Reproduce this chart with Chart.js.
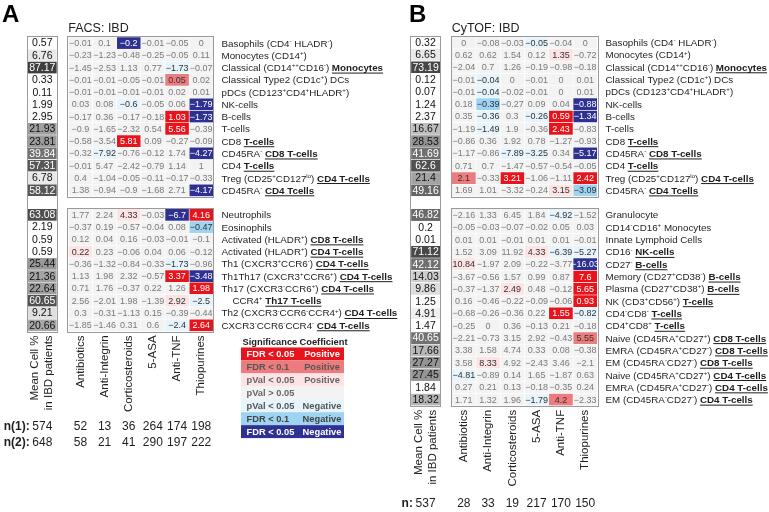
<!DOCTYPE html>
<html>
<head>
<meta charset="utf-8">
<script src="https://cdn.jsdelivr.net/npm/chart.js@4.4.1/dist/chart.umd.min.js"></script>
<style>
  html, body { margin: 0; padding: 0; background: #fff; }
  #wrap { position: relative; width: 769px; height: 512px; overflow: hidden; }
  #wrap canvas { position: absolute; left: 0; top: 0; }
</style>
</head>
<body>
<div id="wrap">
  <canvas id="facsChart" width="769" height="512"></canvas>
  <canvas id="cytofChart" width="769" height="512"></canvas>
</div>
<script>
// ============================================================
// DATA
// ============================================================
const drugs     = ['Antibiotics', 'Anti-Integrin', 'Corticosteroids', '5-ASA', 'Anti-TNF', 'Thiopurines'];
const meanTitle = ['Mean Cell %', 'in IBD patients'];

// ^{..} = superscript, *..* = bold underlined
const facsRows = [
  'Basophils (CD4^{-} HLADR^{-})',
  'Monocytes (CD14^{+})',
  'Classical (CD14^{++}CD16^{-}) *Monocytes*',
  'Classical Type2 (CD1c^{+}) DCs',
  'pDCs (CD123^{+}CD4^{+}HLADR^{+})',
  'NK-cells',
  'B-cells',
  'T-cells',
  'CD8 *T-cells*',
  'CD45RA^{-} *CD8 T-cells*',
  'CD4 *T-cells*',
  'Treg (CD25^{+}CD127^{lo}) *CD4 T-cells*',
  'CD45RA^{-} *CD4 Tcells*',
  '',
  'Neutrophils',
  'Eosinophils',
  'Activated (HLADR^{+}) *CD8 T-cells*',
  'Activated (HLADR^{+}) *CD4 T-cells*',
  'Th1 (CXCR3^{+}CCR6^{-}) *CD4 T-cells*',
  'Th1Th17 (CXCR3^{+}CCR6^{+}) *CD4 T-cells*',
  'Th17 (CXCR3^{-}CCR6^{+}) *CD4 T-cells*',
  '    CCR4^{+} *Th17 T-cells*',
  'Th2 (CXCR3^{-}CCR6^{-}CCR4^{+}) *CD4 T-cells*',
  'CXCR3^{-}CCR6^{-}CCR4^{-} *CD4 T-cells*'
];
const facsMean = [0.57, 6.76, 87.17, 0.33, 0.11, 1.99, 2.95, 21.93, 23.81, 39.84, 57.31, 6.78, 58.12,
  null, 63.08, 2.19, 0.59, 0.59, 25.44, 21.36, 22.64, 60.65, 9.21, 20.66];
const facsCoef = [
  [-0.01, 0.1, -0.2, -0.01, -0.05, 0],
  [-0.23, -1.23, -0.48, -0.25, -0.05, 0.11],
  [-1.45, -2.53, 1.13, 0.77, -1.73, -0.07],
  [-0.01, -0.01, -0.05, -0.01, 0.05, 0.02],
  [-0.01, -0.01, -0.01, -0.01, 0.02, 0.01],
  [0.03, 0.08, -0.6, -0.05, 0.06, -1.79],
  [-0.17, 0.36, -0.17, -0.18, 1.03, -1.73],
  [-0.9, -1.65, -2.32, 0.54, 5.56, -0.39],
  [-0.58, -3.54, 5.81, 0.09, -0.27, -0.09],
  [-0.32, -7.92, -0.76, -0.12, 1.74, -4.27],
  [-0.01, 5.47, -2.42, -0.79, 1.14, 1],
  [0.4, -1.04, -0.05, -0.11, -0.17, -0.33],
  [1.38, -0.94, -0.9, -1.68, 2.71, -4.17],
  null,
  [1.77, 2.24, 4.33, -0.03, -6.7, 4.16],
  [-0.37, 0.19, -0.57, -0.04, 0.08, -0.47],
  [0.12, 0.04, 0.16, -0.03, -0.01, -0.1],
  [0.22, 0.23, -0.06, 0.04, 0.06, -0.12],
  [-0.36, -1.32, -0.84, -0.33, -1.73, -0.96],
  [1.13, 1.98, 2.32, -0.57, 3.37, -3.48],
  [0.71, 1.76, -0.37, 0.22, 1.26, 1.98],
  [2.56, -2.01, 1.98, -1.39, 2.92, -2.5],
  [0.3, -0.31, -1.13, 0.15, -0.39, -0.44],
  [-1.85, -1.46, 0.31, 0.6, -2.4, 2.64]
];
// 3 FDR<0.05 pos, 2 FDR<0.1 pos, 1 pVal<0.05 pos, 0 n.s., -1 / -2 / -3 same for negative
const facsSig = [
  [0, 0, -3, 0, 0, 0],
  [0, 0, 0, 0, 0, 0],
  [0, 0, 0, 0, -1, 0],
  [0, 0, 0, 0, 2, 0],
  [0, 0, 0, 0, 0, 0],
  [0, 0, -1, 0, 0, -3],
  [0, 0, 0, 0, 3, -3],
  [0, 0, 0, 0, 3, 0],
  [0, 0, 3, 0, 0, 0],
  [0, -1, 0, 0, 0, -3],
  [0, 0, 0, 0, 0, 0],
  [0, 0, 0, 0, 0, 0],
  [0, 0, 0, 0, 0, -3],
  null,
  [0, 0, 1, 0, -3, 3],
  [0, 0, 0, 0, 0, -2],
  [0, 0, 0, 0, 0, 0],
  [1, 0, 0, 0, 0, 0],
  [0, 0, 0, 0, -1, 0],
  [0, 0, 0, 0, 3, -3],
  [0, 0, 0, 0, 0, 3],
  [0, 0, 0, 0, 1, -1],
  [0, 0, 0, 0, 0, 0],
  [0, 0, 0, 0, -1, 3]
];
const facsN1 = [574, 52, 13, 36, 264, 174, 198];
const facsN2 = [648, 58, 21, 41, 290, 197, 222];

const cytofRows = [
  'Basophils (CD4^{-} HLADR^{-})',
  'Monocytes (CD14^{+})',
  'Classical (CD14^{++}CD16^{-}) *Monocytes*',
  'Classical Type2 (CD1c^{+}) DCs',
  'pDCs (CD123^{+}CD4^{+}HLADR^{+})',
  'NK-cells',
  'B-cells',
  'T-cells',
  'CD8 *T-cells*',
  'CD45RA^{-} *CD8 T-cells*',
  'CD4 *T-cells*',
  'Treg (CD25^{+}CD127^{lo}) *CD4 T-cells*',
  'CD45RA^{-} *CD4 Tcells*',
  '',
  'Granulocyte',
  'CD14^{-}CD16^{+} Monocytes',
  'Innate Lymphoid Cells',
  'CD16^{-} *NK-cells*',
  'CD27^{-} *B-cells*',
  'Memory (CD27^{+}CD38^{-}) *B-cells*',
  'Plasma (CD27^{+}CD38^{+}) *B-cells*',
  'NK (CD3^{+}CD56^{+}) *T-cells*',
  'CD4^{-}CD8^{-} *T-cells*',
  'CD4^{+}CD8^{+} *T-cells*',
  'Naive (CD45RA^{+}CD27^{+}) *CD8 T-cells*',
  'EMRA (CD45RA^{+}CD27^{-}) *CD8 T-cells*',
  'EM (CD45RA^{-}CD27^{-}) *CD8 T-cells*',
  'Naive (CD45RA^{+}CD27^{+}) *CD4 T-cells*',
  'EMRA (CD45RA^{+}CD27^{-}) *CD4 T-cells*',
  'EM (CD45RA^{-}CD27^{-}) *CD4 T-cells*'
];
const cytofMean = [0.32, 6.65, 73.19, 0.12, 0.07, 1.24, 2.37, 16.67, 28.53, 41.69, 62.6, 21.4, 49.16,
  null, 46.82, 0.2, 0.01, 71.12, 42.12, 14.03, 9.86, 1.25, 4.91, 1.47, 40.65, 17.66, 27.27, 27.45, 1.84, 18.32];
const cytofCoef = [
  [0, -0.08, -0.03, -0.05, -0.04, 0],
  [0.62, 0.62, 1.54, 0.12, 1.35, -0.72],
  [-2.04, 0.7, 1.26, -0.19, -0.98, -0.18],
  [-0.01, -0.04, 0, -0.01, 0, 0.01],
  [-0.01, -0.04, -0.02, -0.01, 0, 0.01],
  [0.18, -0.39, -0.27, 0.09, 0.04, -0.88],
  [0.35, -0.36, 0.3, -0.26, 0.59, -1.34],
  [-1.19, -1.49, 1.9, -0.36, 2.43, -0.83],
  [-0.86, 0.36, 1.92, 0.78, -1.27, -0.93],
  [-1.17, -0.86, -7.89, -3.25, 0.34, -5.17],
  [0.71, 0.7, -1.47, -0.57, -0.54, -0.05],
  [2.1, -0.33, 3.21, -1.06, -1.11, 2.42],
  [1.69, 1.01, -3.32, -0.24, 3.15, -3.09],
  null,
  [-2.16, 1.33, 6.45, 1.84, -4.92, -1.52],
  [-0.05, -0.03, -0.07, -0.02, 0.05, 0.03],
  [0.01, 0.01, -0.01, 0.01, 0.01, -0.01],
  [1.52, 3.09, 11.92, 4.33, -6.39, -5.27],
  [10.84, -1.97, 2.09, -0.22, -3.77, -16.03],
  [-3.67, -0.56, 1.57, 0.99, 0.87, 7.6],
  [-0.37, -1.37, 2.49, 0.48, -0.12, 5.65],
  [0.16, -0.46, -0.22, -0.09, -0.06, 0.93],
  [-0.68, -0.26, -0.36, 0.22, 1.55, -0.82],
  [-0.25, 0, 0.36, -0.13, 0.21, -0.18],
  [-2.21, -0.73, 3.15, 2.92, -0.43, 5.55],
  [3.38, 1.58, 4.74, 0.33, 0.08, -0.38],
  [3.58, 8.33, 4.92, -2.43, 3.46, -2.1],
  [-4.81, -0.89, 0.14, 1.65, -1.87, 0.63],
  [0.27, 0.21, 0.13, -0.18, -0.35, 0.24],
  [1.71, 1.32, 1.96, -1.79, 4.2, -2.33]
];
const cytofSig = [
  [0, 0, 0, -1, 0, 0],
  [0, 0, 0, 0, 1, 0],
  [0, 0, 0, 0, 0, 0],
  [0, -1, 0, 0, 0, 0],
  [0, -1, 0, 0, 0, 0],
  [0, -2, 0, 0, 0, -3],
  [0, -1, 0, -1, 3, -3],
  [0, -1, 0, 0, 3, 0],
  [0, 0, 0, 0, 0, 0],
  [0, 0, -1, -1, 0, -3],
  [0, 0, 0, 0, 0, 0],
  [2, 0, 3, 0, 0, 3],
  [0, 0, 0, 0, 1, -2],
  null,
  [0, 0, 0, 0, -1, 0],
  [0, 0, 0, 0, 0, 0],
  [0, 0, 0, 0, 0, 0],
  [0, 0, 0, 1, -1, -1],
  [1, 0, 0, 0, 0, -3],
  [0, 0, 0, 0, 0, 3],
  [0, 0, 1, 0, 0, 3],
  [0, 0, 0, 0, 0, 3],
  [0, 0, 0, 0, 3, -1],
  [0, 0, 0, 0, 0, 0],
  [0, 0, 0, 0, 0, 2],
  [0, 0, 0, 0, 0, 0],
  [0, 1, 0, 0, 0, 0],
  [-1, 0, 0, 0, 0, 0],
  [0, 0, 0, 0, 0, 0],
  [0, 0, 0, -1, 2, 0]
];
const cytofN = [537, 28, 33, 19, 217, 170, 150];

const legendRows = [
  [3, 'FDR < 0.05', 'Positive'],
  [2, 'FDR < 0.1', 'Positive'],
  [1, 'pVal < 0.05', 'Positive'],
  [0, 'pVal > 0.05', ''],
  [-1, 'pVal < 0.05', 'Negative'],
  [-2, 'FDR < 0.1', 'Negative'],
  [-3, 'FDR < 0.05', 'Negative']
];

// ============================================================
// STYLE
// ============================================================
const W = 769, H = 512;
const FONT = '"Liberation Sans", Arial, Helvetica, sans-serif';
const MEAN_X0 = -1.68, MEAN_X1 = -0.47;   // mean column position on the x scale
const SIG_BG  = { 3: '#e8131b', 2: '#ec7c7d', 1: '#fde3e3', 0: '#f3f3f3', '-1': '#e7f4fb', '-2': '#9ed4f2', '-3': '#2e3192' };
const SIG_TXT = { 3: '#fff', 2: '#333', 1: '#333', 0: '#7a7a7a', '-1': '#333', '-2': '#333', '-3': '#fff' };
const LEG_TXT = { 3: '#fff', 2: '#555', 1: '#666', 0: '#666', '-1': '#555', '-2': '#444', '-3': '#fff' };
const GREY_STOPS = [[0, 255], [3, 248], [7, 232], [10, 220], [14, 205], [18, 182], [22, 160], [28, 148],
  [40, 115], [50, 100], [60, 82], [75, 68], [90, 60]];

function meanGrey(v) {
  let g = 255;
  for (let i = 1; i < GREY_STOPS.length; i++) {
    const [x0, g0] = GREY_STOPS[i - 1], [x1, g1] = GREY_STOPS[i];
    if (v <= x1) { g = g0 + (g1 - g0) * (v - x0) / (x1 - x0); break; }
  }
  g = Math.round(g);
  return `rgb(${g},${g},${g})`;
}

function fmt(v) {
  return v < 0 ? '\u2212' + Math.abs(v) : String(v);
}

function parseRich(s) {
  const out = [];
  const re = /\^\{([^}]*)\}|\*([^*]*)\*|([^\^*]+)/g;
  let m;
  while ((m = re.exec(s))) {
    if (m[1] !== undefined) out.push({ t: m[1], sup: true });
    else if (m[2] !== undefined) out.push({ t: m[2], bold: true });
    else out.push({ t: m[3] });
  }
  return out;
}

function drawRich(ctx, s, x, y, size) {
  ctx.textAlign = 'left';
  ctx.textBaseline = 'alphabetic';
  parseRich(s).forEach(seg => {
    const fs = seg.sup ? size * 0.62 : size;
    ctx.font = (seg.bold ? 'bold ' : '') + fs + 'px ' + FONT;
    const dy = seg.sup ? -size * 0.4 : 0;
    ctx.fillText(seg.t, x, y + dy);
    const w = ctx.measureText(seg.t).width;
    if (seg.bold) ctx.fillRect(x, y + 1.5, w, 1);
    x += w;
  });
}

// ============================================================
// DECORATION (cell texts, boxes, labels)
// ============================================================
function drawDeco(chart, p) {
  const ctx = chart.ctx, xs = chart.scales.x, ys = chart.scales.y, ca = chart.chartArea;
  const n = p.rows.length;
  const band = (ca.bottom - ca.top) / n;
  const cy = i => ys.getPixelForValue(i);
  const hx0 = xs.getPixelForValue(0), hx1 = xs.getPixelForValue(6);
  const mx0 = xs.getPixelForValue(MEAN_X0), mx1 = xs.getPixelForValue(MEAN_X1);
  const mcx = (mx0 + mx1) / 2;

  ctx.save();

  // cell values
  ctx.save();
  ctx.beginPath();
  ctx.rect(hx0, ca.top, hx1 - hx0, ca.bottom - ca.top);
  ctx.clip();
  ctx.font = '9px ' + FONT;
  ctx.textAlign = 'center';
  ctx.textBaseline = 'middle';
  p.coef.forEach((r, i) => {
    if (!r) return;
    r.forEach((v, j) => {
      const c = chart.getDatasetMeta(j + 1).data[i].getCenterPoint();
      ctx.fillStyle = SIG_TXT[p.sig[i][j]];
      ctx.fillText(fmt(v), c.x, c.y + 0.5);
    });
  });
  ctx.restore();

  // mean values
  ctx.font = '10.5px ' + FONT;
  ctx.textAlign = 'center';
  ctx.textBaseline = 'middle';
  p.mean.forEach((v, i) => {
    if (v == null) return;
    ctx.fillStyle = v > 35 ? '#fff' : '#111';
    ctx.fillText(String(v), mcx, cy(i) + 0.5);
  });

  // boxes
  ctx.strokeStyle = '#9a9a9a';
  ctx.lineWidth = 1;
  ctx.strokeRect(Math.round(mx0) - 0.5, Math.round(ca.top) - 0.5, Math.round(mx1 - mx0) + 1, Math.round(ca.bottom - ca.top) + 1);
  let start = null;
  for (let i = 0; i <= n; i++) {
    const has = i < n && p.coef[i];
    if (has && start === null) start = i;
    if (!has && start !== null) {
      const t = cy(start) - band / 2, b = cy(i - 1) + band / 2;
      ctx.strokeRect(Math.round(hx0) - 0.5, Math.round(t) - 0.5, Math.round(hx1 - hx0) + 1, Math.round(b - t) + 1);
      start = null;
    }
  }

  // row labels
  ctx.fillStyle = '#1e1e1e';
  p.rows.forEach((s, i) => {
    if (s) drawRich(ctx, s, p.labelX, cy(i) + 3.5, 9.8);
  });

  // column labels (rotated)
  ctx.font = '11.5px ' + FONT;
  ctx.fillStyle = '#1e1e1e';
  const colLabel = (txt, x) => {
    ctx.save();
    ctx.translate(x, ca.bottom + 4);
    ctx.rotate(-Math.PI / 2);
    ctx.textAlign = 'right';
    ctx.textBaseline = 'middle';
    ctx.fillText(txt, 0, 0);
    ctx.restore();
  };
  colLabel(meanTitle[0], mcx - 7);
  colLabel(meanTitle[1], mcx + 7);
  drugs.forEach((d, j) => colLabel(d, xs.getPixelForValue(j + 0.5)));

  // n rows
  ctx.textBaseline = 'middle';
  p.nRows.forEach(nr => {
    ctx.font = 'bold 12px ' + FONT;
    ctx.textAlign = 'right';
    ctx.fillText(nr.label, mx0 + 2, nr.y);
    ctx.font = '12px ' + FONT;
    ctx.textAlign = 'center';
    nr.vals.forEach((v, k) => {
      const x = k === 0 ? mcx : xs.getPixelForValue(k - 0.5);
      ctx.fillText(String(v), x, nr.y);
    });
  });

  // panel letter + title
  ctx.fillStyle = '#000';
  ctx.textAlign = 'left';
  ctx.textBaseline = 'alphabetic';
  ctx.font = 'bold 24px ' + FONT;
  ctx.fillText(p.letter, p.letterX, 22);
  ctx.font = '12.5px ' + FONT;
  ctx.fillStyle = '#1e1e1e';
  ctx.fillText(p.title, hx0, 31.5);

  if (p.legend) drawLegend(ctx);
  ctx.restore();
}

function drawLegend(ctx) {
  const x0 = 241, x1 = 344, top = 336, rowH = 12.95;
  ctx.textBaseline = 'middle';
  ctx.font = 'bold 9.3px ' + FONT;
  ctx.fillStyle = '#222';
  ctx.textAlign = 'left';
  ctx.fillText('Significance', 242.5, top + rowH / 2);
  ctx.fillText('Coefficient', 299.5, top + rowH / 2);
  legendRows.forEach(([s, a, b], k) => {
    const y = top + rowH * (k + 1) - 1.5;
    ctx.fillStyle = SIG_BG[s];
    ctx.fillRect(x0, y, x1 - x0, rowH);
    ctx.fillStyle = LEG_TXT[s];
    ctx.textAlign = 'left';
    ctx.fillText(a, 246.5, y + rowH / 2 + 0.5);
    ctx.textAlign = 'center';
    ctx.fillText(b, 322, y + rowH / 2 + 0.5);
  });
}

// ============================================================
// CHARTS
// ============================================================
function makePanel(canvasId, p) {
  const datasets = [{
    label: 'mean',
    data: p.mean.map(() => [MEAN_X0, MEAN_X1]),
    backgroundColor: p.mean.map(v => v == null ? '#fff' : meanGrey(v)),
    borderColor: '#fff',
    borderWidth: 0.6,
    borderSkipped: false,
  }];
  drugs.forEach((d, j) => {
    datasets.push({
      label: d,
      data: p.coef.map(r => r ? [j, j + 1] : null),
      backgroundColor: p.sig.map(r => r ? SIG_BG[r[j]] : 'rgba(0,0,0,0)'),
      borderColor: '#fff',
      borderWidth: 0.6,
      borderSkipped: false,
    });
  });

  return new Chart(document.getElementById(canvasId), {
    type: 'bar',
    data: { labels: p.rows, datasets },
    options: {
      indexAxis: 'y',
      responsive: false,
      animation: false,
      events: [],
      layout: { padding: { left: p.left, right: W - p.right, top: p.top, bottom: H - p.bottom } },
      datasets: { bar: { grouped: false, barPercentage: 1, categoryPercentage: 1 } },
      scales: {
        x: { type: 'linear', min: MEAN_X0, max: 6, display: false },
        y: { type: 'category', display: false }
      },
      plugins: { legend: { display: false }, tooltip: { enabled: false } }
    },
    plugins: [{ id: 'heatDeco', afterDatasetsDraw: chart => drawDeco(chart, p) }]
  });
}

makePanel('facsChart', {
  letter: 'A', letterX: 2, title: 'FACS: IBD',
  rows: facsRows, mean: facsMean, coef: facsCoef, sig: facsSig,
  left: 27.7, right: 213.3, top: 36.9, bottom: 331.4, labelX: 221.5,
  nRows: [{ label: 'n(1):', vals: facsN1, y: 426.7 }, { label: 'n(2):', vals: facsN2, y: 442.7 }],
  legend: true
});

makePanel('cytofChart', {
  letter: 'B', letterX: 409, title: 'CyTOF: IBD',
  rows: cytofRows, mean: cytofMean, coef: cytofCoef, sig: cytofSig,
  left: 410.9, right: 597.3, top: 36.5, bottom: 405.8, labelX: 605.5,
  nRows: [{ label: 'n:', vals: cytofN, y: 503.3 }],
  legend: false
});
</script>
</body>
</html>
